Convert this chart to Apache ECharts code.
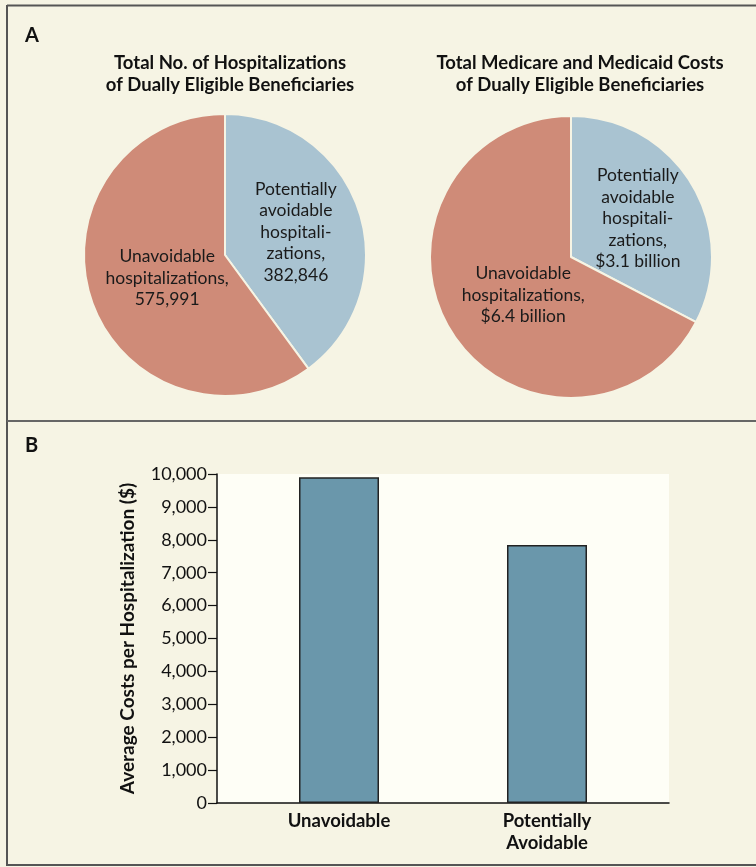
<!DOCTYPE html>
<html>
<head>
<meta charset="utf-8">
<script src="https://cdn.jsdelivr.net/npm/echarts@6/dist/echarts.min.js"></script>
<style>
html,body{margin:0;padding:0;background:#f6f4e4;}
#c{width:756px;height:867px;}
</style>
</head>
<body>
<div id="c"></div>
<script>
// ---- data ----
var pieHospNames = ['Potentially\navoidable\nhospitali-\nzations,\n382,846', 'Unavoidable\nhospitalizations,\n575,991'];
var pieHospValues = [382846, 575991];
var pieCostNames = ['Potentially\navoidable\nhospitali-\nzations,\n$3.1 billion', 'Unavoidable\nhospitalizations,\n$6.4 billion'];
var pieCostValues = [3.1, 6.4];
var barCategories = ['Unavoidable', 'Potentially\nAvoidable'];
var barValues = [9900, 7840];
var yTicks = [0, 1000, 2000, 3000, 4000, 5000, 6000, 7000, 8000, 9000, 10000];

var FONT = 'Lato';
var RED = '#cf8b78', BLUE = '#a9c3d1';
var chart = echarts.init(document.getElementById('c'));

function shiftPad(dx, dy) {
  return [dy > 0 ? 2 * dy : 0, dx < 0 ? -2 * dx : 0, dy < 0 ? -2 * dy : 0, dx > 0 ? 2 * dx : 0];
}
var pieColors = [BLUE, RED];
var hospShift = [[1, 0], [12, 17]];
var costShift = [[4, -6], [15, 1]];
function pieData(names, values, shifts) {
  return values.map(function (v, i) {
    return {
      name: names[i], value: v,
      itemStyle: { color: pieColors[i] },
      label: { padding: shiftPad(shifts[i][0], shifts[i][1]) }
    };
  });
}
var pieLabel = {
  show: true, position: 'inside', formatter: '{b}',
  fontFamily: FONT, fontSize: 17.5, color: '#1a1a1a', lineHeight: 21.5, align: 'center'
};

chart.setOption({
  backgroundColor: '#f6f4e4',
  animation: false,
  title: [
    { text: 'A', left: 20, top: 21, textStyle: { fontFamily: FONT, fontWeight: 'bold', fontSize: 20, color: '#111' } },
    { text: 'B', left: 20, top: 431, textStyle: { fontFamily: FONT, fontWeight: 'bold', fontSize: 20, color: '#111' } },
    { text: 'Total No. of Hospitalizations\nof Dually Eligible Beneficiaries', left: 225, top: 47, textAlign: 'center',
      textStyle: { fontFamily: FONT, fontWeight: 'bold', fontSize: 18.5, lineHeight: 22, color: '#111', align: 'center' } },
    { text: 'Total Medicare and Medicaid Costs\nof Dually Eligible Beneficiaries', left: 575, top: 47, textAlign: 'center',
      textStyle: { fontFamily: FONT, fontWeight: 'bold', fontSize: 18.5, lineHeight: 22, color: '#111', align: 'center' } }
  ],
  graphic: [
    { type: 'line', shape: { x1: 7, y1: 5.5, x2: 756, y2: 5.5 }, style: { stroke: '#555', lineWidth: 2 } },
    { type: 'line', shape: { x1: 7, y1: 5, x2: 7, y2: 866 }, style: { stroke: '#555', lineWidth: 2 } },
    { type: 'line', shape: { x1: 7, y1: 865, x2: 756, y2: 865 }, style: { stroke: '#555', lineWidth: 2 } },
    { type: 'line', shape: { x1: 7, y1: 421, x2: 756, y2: 421 }, style: { stroke: '#666', lineWidth: 2 } }
  ],
  grid: [
    { left: 217, right: 87, top: 474, bottom: 64, show: true, backgroundColor: '#fefef6', borderWidth: 0 },
    { left: 235, right: 105, top: 474, bottom: 64 }
  ],
  xAxis: [
    { gridIndex: 0, type: 'category', data: ['', ''], axisLine: { lineStyle: { color: '#111', width: 1.5 } },
      axisTick: { show: false }, axisLabel: { show: false } },
    { gridIndex: 1, type: 'category', data: barCategories, axisLine: { show: false }, axisTick: { show: false },
      axisLabel: { fontFamily: FONT, fontWeight: 'bold', fontSize: 18.5, color: '#111', lineHeight: 22, margin: 7 } }
  ],
  yAxis: [
    { gridIndex: 0, type: 'value', min: 0, max: 10000, interval: 1000,
      axisLine: { show: true, lineStyle: { color: '#111', width: 1.5 } },
      axisTick: { show: true, length: 9, lineStyle: { color: '#111', width: 1.2 } },
      splitLine: { show: false },
      axisLabel: { fontFamily: FONT, fontSize: 18, color: '#111', margin: 10,
        formatter: function (v) { return yTicks.indexOf(v) >= 0 ? v.toLocaleString('en-US') : ''; } },
      name: 'Average Costs per Hospitalization ($)', nameLocation: 'middle', nameGap: 80, nameRotate: 90,
      nameTextStyle: { fontFamily: FONT, fontWeight: 'bold', fontSize: 19, color: '#111' } },
    { gridIndex: 1, type: 'value', min: 0, max: 10000, interval: 1000, show: false }
  ],
  series: [
    { type: 'pie', center: [225, 255], radius: 141, startAngle: 90, clockwise: true,
      data: pieData(pieHospNames, pieHospValues, hospShift), label: pieLabel, labelLine: { show: false },
      itemStyle: { borderColor: '#f6f4e4', borderWidth: 2 }, emphasis: { disabled: true } },
    { type: 'pie', center: [571, 257], radius: 141, startAngle: 90, clockwise: true,
      data: pieData(pieCostNames, pieCostValues, costShift), label: pieLabel, labelLine: { show: false },
      itemStyle: { borderColor: '#f6f4e4', borderWidth: 2 }, emphasis: { disabled: true } },
    { type: 'bar', xAxisIndex: 1, yAxisIndex: 1, data: barValues, barWidth: 80,
      itemStyle: { color: '#6a97ab', borderColor: '#222', borderWidth: 1.5 } }
  ]
});
</script>
</body>
</html>
